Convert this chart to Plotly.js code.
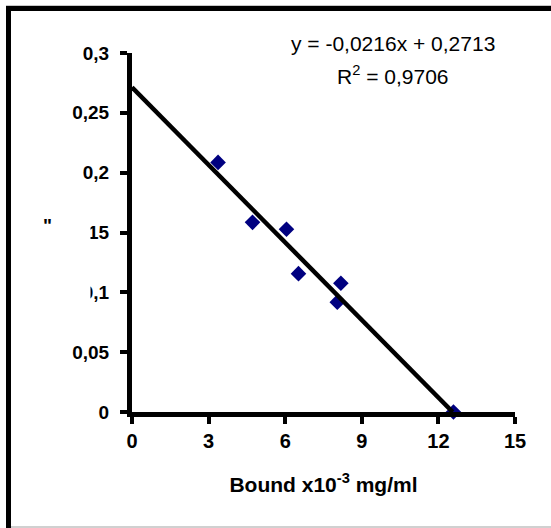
<!DOCTYPE html>
<html>
<head>
<meta charset="utf-8">
<script src="https://cdn.plot.ly/plotly-3.0.1.min.js"></script>
<style>html,body{margin:0;padding:0;background:#fff}#chart{width:551px;height:528px}</style>
</head>
<body>
<div id="chart"></div>
<script>
// Data
const boundX = [3.37, 4.72, 6.05, 6.52, 8.18, 8.04, 12.59];
const ratioY = [0.2086, 0.1585, 0.1527, 0.1156, 0.1076, 0.0918, 0.0];
const trendSlope = -0.0216;
const trendIntercept = 0.2713;
const rSquared = 0.9706;
const xTickVals = [0, 3, 6, 9, 12, 15];
const xTickText = ["0", "3", "6", "9", "12", "15"];
const yTickVals = [0, 0.05, 0.1, 0.15, 0.2, 0.25, 0.3];
const yTickText = ["0", "0,05", "0,1", "0,15", "0,2", "0,25", "0,3"];
const xTitle = "Bound x10<sup>-3</sup> mg/ml";

const fmt = (v, d) => v.toFixed(d).replace('.', ',');
const eqText = "y = " + fmt(trendSlope, 4) + "x + " + fmt(trendIntercept, 4);
const r2Text = "R<sup>2</sup> = " + fmt(rSquared, 4);

const trendX = [0, -trendIntercept / trendSlope];
const trendY = trendX.map(x => trendSlope * x + trendIntercept);

const FONT = "Liberation Sans, Arial, sans-serif";

// pixel -> paper helpers (plot area: left 132, right 515, top 53, bottom 412)
const L = 132, R = 36, T = 53, B = 116, W = 551, H = 528;
const pw = W - L - R, ph = H - T - B;
const px = x => (x - L) / pw;
const py = y => (H - B - y) / ph;

const data = [
  {
    x: boundX, y: ratioY, type: 'scatter', mode: 'markers',
    marker: {symbol: 'diamond', size: 12, color: '#000080'},
    cliponaxis: false, hoverinfo: 'skip'
  },
  {
    x: trendX, y: trendY, type: 'scatter', mode: 'lines',
    line: {color: '#000000', width: 4.5},
    cliponaxis: false, hoverinfo: 'skip'
  }
];

const layout = {
  width: W, height: H,
  margin: {l: L, r: R, t: T, b: B, pad: 0},
  paper_bgcolor: '#ffffff', plot_bgcolor: '#ffffff',
  showlegend: false,
  font: {family: FONT, color: '#000000'},
  xaxis: {
    range: [0, 15], tickvals: xTickVals, ticktext: xTickText,
    showgrid: false, zeroline: false,
    showline: true, linecolor: '#000', linewidth: 5,
    ticks: 'outside', ticklen: 7, tickwidth: 4, tickcolor: '#000',
    ticklabelstandoff: 0,
    tickfont: {family: FONT, size: 20, color: '#000', weight: 'bold'},
    title: {text: xTitle, font: {family: FONT, size: 21, color: '#000', weight: 'bold'}, standoff: 28}
  },
  yaxis: {
    range: [0, 0.3], tickvals: yTickVals, ticktext: yTickText,
    showgrid: false, zeroline: false,
    showline: true, linecolor: '#000', linewidth: 5,
    ticks: 'outside', ticklen: 7, tickwidth: 4, tickcolor: '#000',
    ticklabelstandoff: 7,
    tickfont: {family: FONT, size: 19, color: '#000', weight: 'bold'}
  },
  shapes: [
    // outer frame (black, open on right/bottom edges of the picture)
    {type: 'rect', xref: 'paper', yref: 'paper', x0: px(8.5), x1: px(600), y0: py(600), y1: py(8.5),
     line: {color: '#000', width: 5}, fillcolor: 'rgba(0,0,0,0)', layer: 'above'},
    {type: 'line', xref: 'paper', yref: 'paper', x0: px(6), x1: px(560), y0: py(5.5), y1: py(5.5),
     line: {color: '#c8c8c8', width: 1}, layer: 'above'},
    {type: 'line', xref: 'paper', yref: 'paper', x0: px(11), x1: px(560), y0: py(527), y1: py(527),
     line: {color: '#d0d0d0', width: 2}, layer: 'above'},
    // white patch covering the y-axis title area
    {type: 'rect', xref: 'paper', yref: 'paper', x0: px(42), x1: px(90.5), y0: py(305), y1: py(225),
     line: {width: 0}, fillcolor: '#ffffff', layer: 'above'}
  ],
  annotations: [
    {xref: 'paper', yref: 'paper', x: px(393), y: py(44), xanchor: 'center', yanchor: 'middle',
     text: eqText, showarrow: false, font: {family: FONT, size: 21, color: '#000'}},
    {xref: 'paper', yref: 'paper', x: px(393), y: py(75), xanchor: 'center', yanchor: 'middle',
     text: r2Text, showarrow: false, font: {family: FONT, size: 21, color: '#000'}},
    {xref: 'paper', yref: 'paper', x: px(47), y: py(213), xanchor: 'center', yanchor: 'top',
     text: '"', showarrow: false, font: {family: FONT, size: 19, color: '#000', weight: 'bold'}}
  ]
};

Plotly.newPlot('chart', data, layout, {staticPlot: true, displayModeBar: false});
</script>
</body>
</html>
